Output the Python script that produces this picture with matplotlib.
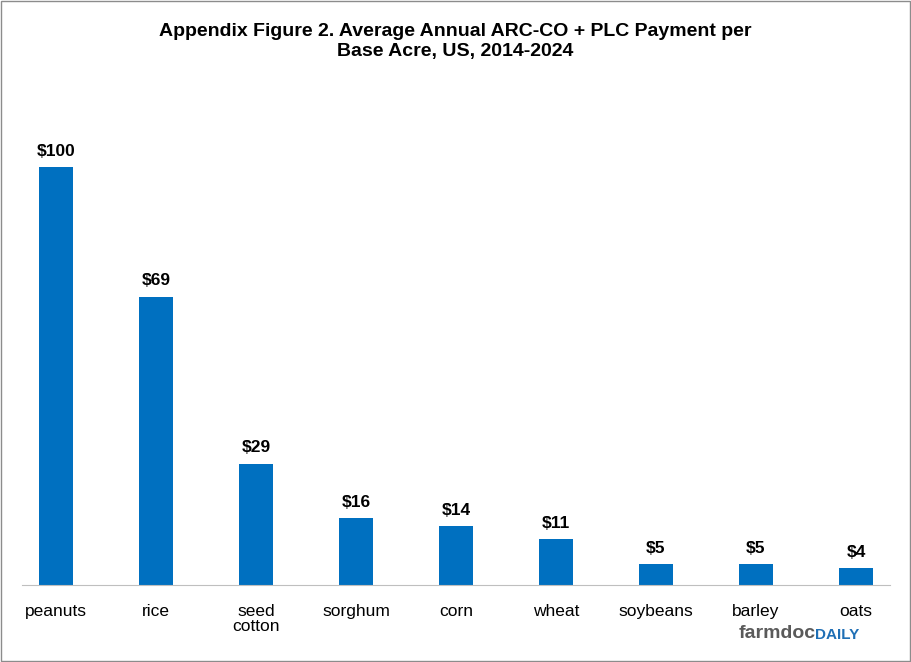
import matplotlib.pyplot as plt
from matplotlib.patches import Rectangle

crops = ["peanuts", "rice", "seed\ncotton", "sorghum", "corn", "wheat", "soybeans", "barley", "oats"]
payments = [100, 69, 29, 16, 14, 11, 5, 5, 4]

plt.rcParams['font.family'] = ['Liberation Sans', 'DejaVu Sans']

fig = plt.figure(figsize=(9.11, 6.62), dpi=100)
ax = fig.add_axes([22 / 911, 77 / 662, 868 / 911, 501.6 / 662])

x = range(len(crops))
ax.bar(x, payments, width=0.34, color="#0070C0")
for i, v in zip(x, payments):
    ax.text(i, v + 2, f"${v}", ha="center", va="bottom", fontsize=12.5, fontweight="bold")

ax.set_xlim(-0.34, 8.34)
ax.set_ylim(0, 120)
ax.set_yticks([])
ax.set_xticks(list(x))
ax.set_xticklabels(crops, fontsize=12.5, linespacing=1.0)
ax.tick_params(axis="x", length=0, pad=14)
for s in ["top", "left", "right"]:
    ax.spines[s].set_visible(False)
ax.spines["bottom"].set_color("#BFBFBF")

fig.text(0.5, 0.965, "Appendix Figure 2. Average Annual ARC-CO + PLC Payment per\nBase Acre, US, 2014-2024",
         ha="center", va="top", fontsize=14, fontweight="bold", linespacing=1.25)

fig.text(0.895, 0.03, "farmdoc", ha="right", va="bottom", fontsize=14, fontweight="bold", color="#5A5A5A")
fig.text(0.895, 0.03, "DAILY", ha="left", va="bottom", fontsize=11, fontweight="bold", color="#1F6FB5")

fig.patches.append(Rectangle((0.001, 0.001), 0.998, 0.998, transform=fig.transFigure,
                             fill=False, edgecolor="#8C8C8C", linewidth=1))

fig.savefig("out.png", dpi=100)
